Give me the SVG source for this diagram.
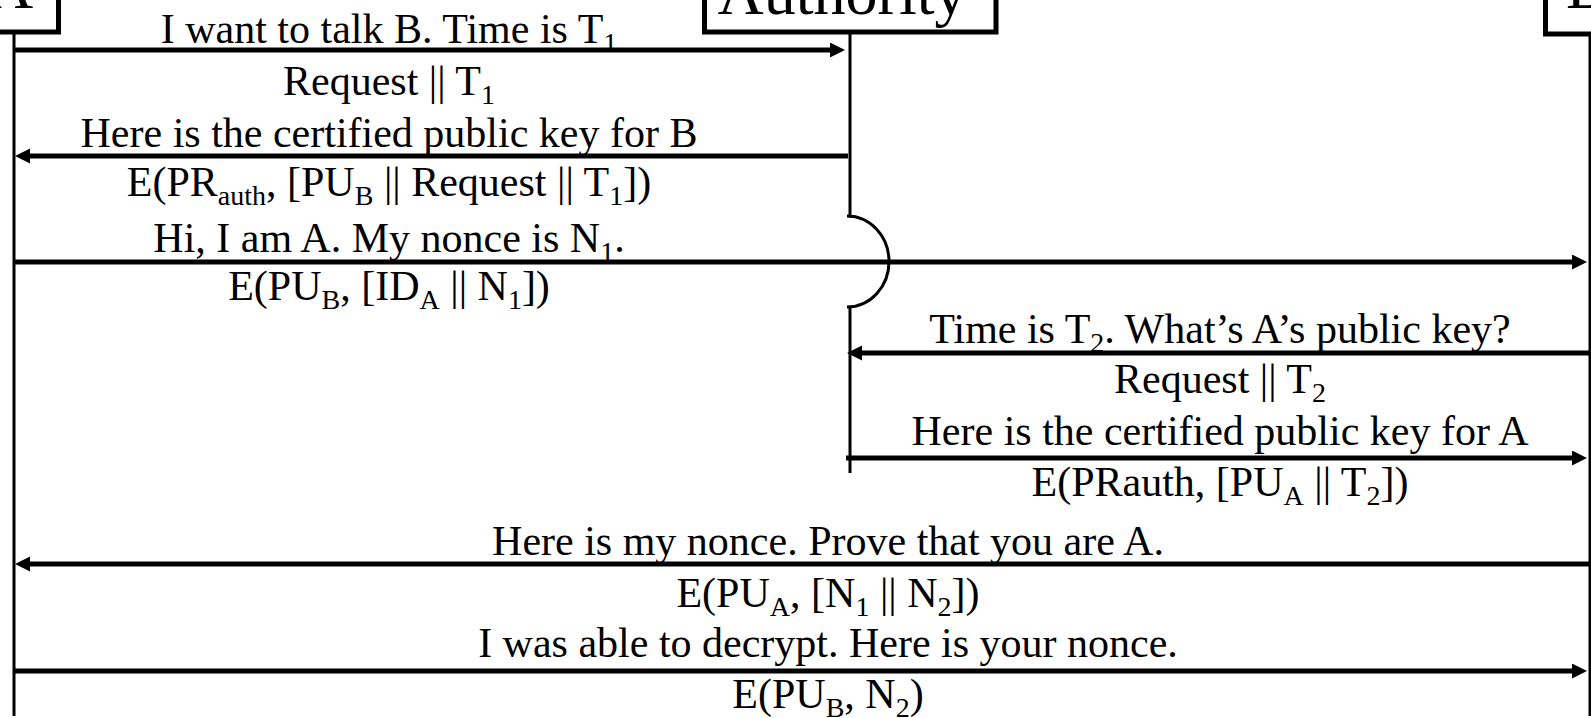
<svg xmlns="http://www.w3.org/2000/svg" width="1591" height="718" viewBox="0 0 1591 718">
<style>
.box{fill:#fff;stroke:#000;stroke-width:5}
.life{stroke:#000;stroke-width:3;fill:none}
.msg{stroke:#000;stroke-width:5;fill:none;marker-end:url(#ah)}
.t{font-family:"Liberation Serif","Times New Roman",serif;font-size:42px;fill:#000;text-anchor:middle}
.h{font-family:"Liberation Serif","Times New Roman",serif;font-size:64px;fill:#000}
.s{font-size:28px}
</style>
<defs>
<marker id="ah" markerUnits="userSpaceOnUse" markerWidth="16" markerHeight="16" refX="5" refY="7.5" orient="auto">
<path d="M0,0 L15,7.5 L0,15 z" fill="#000"/>
</marker>
</defs>
<rect width="1591" height="718" fill="#fff"/>
<g id="node-A">
<rect class="box" x="-100" y="-100" width="158.5" height="132"/>
<text class="h" x="10" y="8" text-anchor="middle">A</text>
<line class="life" x1="14" y1="34" x2="14" y2="716"/>
</g>
<g id="node-Authority">
<rect class="box" x="704.5" y="-100" width="291.5" height="132"/>
<text class="h" x="842" y="14" text-anchor="middle">Authority</text>
<path class="life" d="M850,34 V216 H847 A42,45.5 0 0 1 847,307 H850 V473"/>
</g>
<g id="node-B">
<rect class="box" x="1545.5" y="-100" width="200" height="134"/>
<text class="h" x="1566" y="8">B</text>
<line class="life" x1="1590" y1="36" x2="1590" y2="716"/>
</g>
<g id="connectors">
<line class="msg" x1="14" y1="50" x2="835" y2="50"/>
<line class="msg" x1="848" y1="156" x2="25" y2="156"/>
<line class="msg" x1="14" y1="262" x2="1577" y2="262"/>
<line class="msg" x1="1589" y1="353" x2="857" y2="353"/>
<line class="msg" x1="846" y1="458" x2="1577" y2="458"/>
<line class="msg" x1="1589" y1="564" x2="25" y2="564"/>
<line class="msg" x1="14" y1="671" x2="1577" y2="671"/>
</g>
<g id="labels">
<text class="t" x="389" y="43">I want to talk B. Time is T<tspan class="s" dy="9">1</tspan></text>
<text class="t" x="389" y="95">Request || T<tspan class="s" dy="9">1</tspan></text>
<text class="t" x="389" y="147">Here is the certified public key for B</text>
<text class="t" x="389" y="196">E(PR<tspan class="s" dy="9">auth</tspan><tspan dy="-9">, [PU</tspan><tspan class="s" dy="9">B</tspan><tspan dy="-9"> || Request || T</tspan><tspan class="s" dy="9">1</tspan><tspan dy="-9">])</tspan></text>
<text class="t" x="389" y="252">Hi, I am A. My nonce is N<tspan class="s" dy="9">1</tspan><tspan dy="-9">.</tspan></text>
<text class="t" x="389" y="300">E(PU<tspan class="s" dy="9">B</tspan><tspan dy="-9">, [ID</tspan><tspan class="s" dy="9">A</tspan><tspan dy="-9"> || N</tspan><tspan class="s" dy="9">1</tspan><tspan dy="-9">])</tspan></text>
<text class="t" x="1220" y="343">Time is T<tspan class="s" dy="9">2</tspan><tspan dy="-9">. What’s A’s public key?</tspan></text>
<text class="t" x="1220" y="393">Request || T<tspan class="s" dy="9">2</tspan></text>
<text class="t" x="1220" y="445">Here is the certified public key for A</text>
<text class="t" x="1220" y="496">E(PRauth, [PU<tspan class="s" dy="9">A</tspan><tspan dy="-9"> || T</tspan><tspan class="s" dy="9">2</tspan><tspan dy="-9">])</tspan></text>
<text class="t" x="828" y="555">Here is my nonce. Prove that you are A.</text>
<text class="t" x="828" y="607">E(PU<tspan class="s" dy="9">A</tspan><tspan dy="-9">, [N</tspan><tspan class="s" dy="9">1</tspan><tspan dy="-9"> || N</tspan><tspan class="s" dy="9">2</tspan><tspan dy="-9">])</tspan></text>
<text class="t" x="828" y="657">I was able to decrypt. Here is your nonce.</text>
<text class="t" x="828" y="708">E(PU<tspan class="s" dy="9">B</tspan><tspan dy="-9">, N</tspan><tspan class="s" dy="9">2</tspan><tspan dy="-9">)</tspan></text>
</g>
</svg>
